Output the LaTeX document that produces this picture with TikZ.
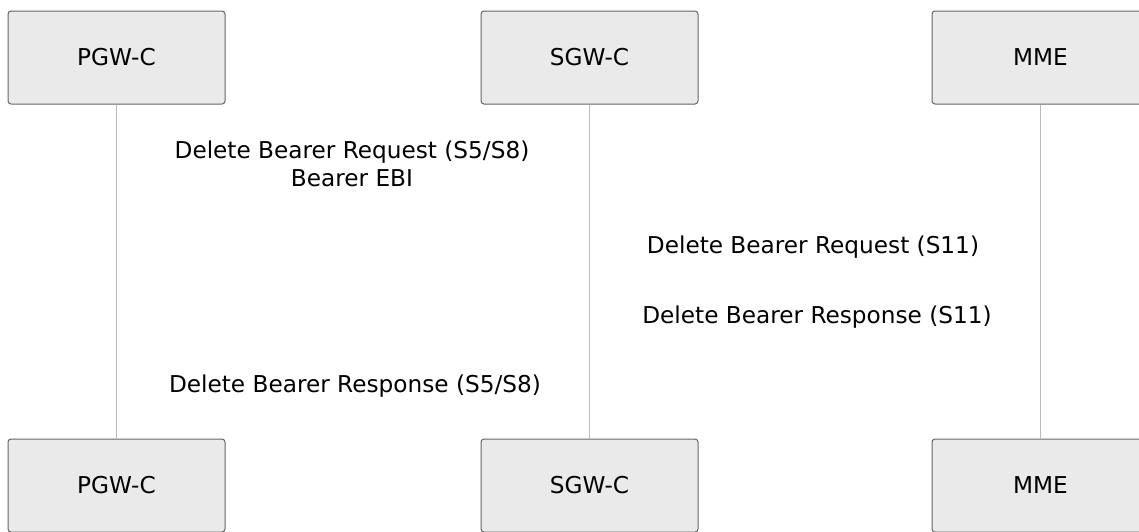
\documentclass[tikz,border=0pt]{standalone}
\usepackage{fontspec}
\setmainfont{DejaVu Sans}
\usepackage{xcolor}
\usepackage{tikz}
\usetikzlibrary{positioning,calc}

\definecolor{actorfill}{HTML}{EAEAEA}
\definecolor{actorline}{HTML}{666666}
\definecolor{lifeline}{HTML}{BBBBBB}

\begin{document}
\begin{tikzpicture}[
    x=1pt, y=-1pt,
    actor/.style={rectangle, draw=actorline, fill=actorfill, line width=1pt, rounded corners=3pt, minimum width=217pt, minimum height=93pt, font=\fontsize{23.2}{28}\selectfont},
    msg/.style={align=center, font=\fontsize{23.2}{28}\selectfont, inner sep=0pt},
    life/.style={draw=lifeline, line width=1pt}
]

\clip (0,0) rectangle (1139,531);

% Actors on top
\node[actor] (pgw) at (116.5,57.5) {PGW-C};
\node[actor] (sgw) at (589.5,57.5) {SGW-C};
\node[actor] (mme) at (1040.5,57.5) {MME};

% Actors at the bottom
\node[actor] (pgwB) at (116.5,485.5) {PGW-C};
\node[actor] (sgwB) at (589.5,485.5) {SGW-C};
\node[actor] (mmeB) at (1040.5,485.5) {MME};

% Lifelines
\draw[life] (pgw) -- (pgwB);
\draw[life] (sgw) -- (sgwB);
\draw[life] (mme) -- (mmeB);

% Messages
\node[msg] (req58) at (352,164) {Delete Bearer Request (S5/S8)\\Bearer EBI};
\node[msg] (req11) at (813,247.5) {Delete Bearer Request (S11)};
\node[msg] (rsp11) at (817,317) {Delete Bearer Response (S11)};
\node[msg] (rsp58) at (355,386) {Delete Bearer Response (S5/S8)};

\end{tikzpicture}
\end{document}
